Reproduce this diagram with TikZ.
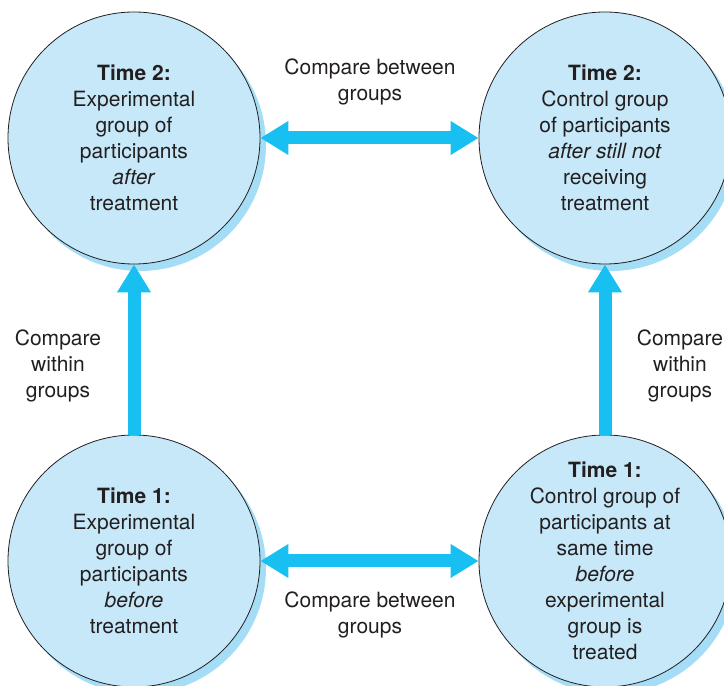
\documentclass[tikz,border=0pt]{standalone}
\usepackage{fontspec}
\setmainfont{TeX Gyre Heros}
\usetikzlibrary{arrows.meta}
\usetikzlibrary{shadows}
\definecolor{circblue}{HTML}{C6E8F8}
\definecolor{shadeblue}{HTML}{A6DDF6}
\definecolor{arrowblue}{HTML}{17C0F0}
\definecolor{textgray}{HTML}{231F20}

\begin{document}
\begin{tikzpicture}[
    x=1pt, y=1pt,
    group node/.style={circle,draw=textgray,line width=0.8pt,fill=circblue,minimum size=2*\R,inner sep=0pt,
        align=center,text=textgray,font=\fontsize{21}{26}\selectfont,
        drop shadow={shadow xshift=6pt,shadow yshift=-7pt,fill=shadeblue,opacity=1}},
    compare label/.style={align=center,text=textgray,font=\fontsize{21}{26}\selectfont},
    compare arrow/.style={line width=13pt,draw=arrowblue,-{Triangle[width=32pt,length=28pt]}},
    both arrow/.style={compare arrow,{Triangle[width=32pt,length=28pt]}-{Triangle[width=32pt,length=28pt]}}
]
    \def\R{126}
    \useasboundingbox (0,0) rectangle (724,686);
    \node[group node] (t2exp) at (134,548) {\textbf{Time 2:}\\Experimental\\group of\\participants\\\textit{after}\\treatment};
    \node[group node] (t2con) at (605,548) {\textbf{Time 2:}\\Control group\\of participants\\\textit{after still not}\\receiving\\treatment};
    \node[group node] (t1exp) at (134,125) {\textbf{Time 1:}\\Experimental\\group of\\participants\\\textit{before}\\treatment};
    \node[group node] (t1con) at (605,125) {\textbf{Time 1:}\\Control group of\\participants at\\same time\\\textit{before}\\experimental\\group is\\treated};

    \draw[both arrow] (t2exp) -- (t2con);
    \draw[both arrow] (t1exp) -- (t1con);
    \draw[compare arrow] (t1exp) -- (t2exp);
    \draw[compare arrow] (t1con) -- (t2con);

    \node[compare label] (betweentop) at (370,604) {Compare between\\groups};
    \node[compare label] (betweenbot) at (370,71) {Compare between\\groups};
    \node[compare label] (withinleft) at (58,320) {Compare\\within\\groups};
    \node[compare label] (withinright) at (680,320) {Compare\\within\\groups};
\end{tikzpicture}
\end{document}
